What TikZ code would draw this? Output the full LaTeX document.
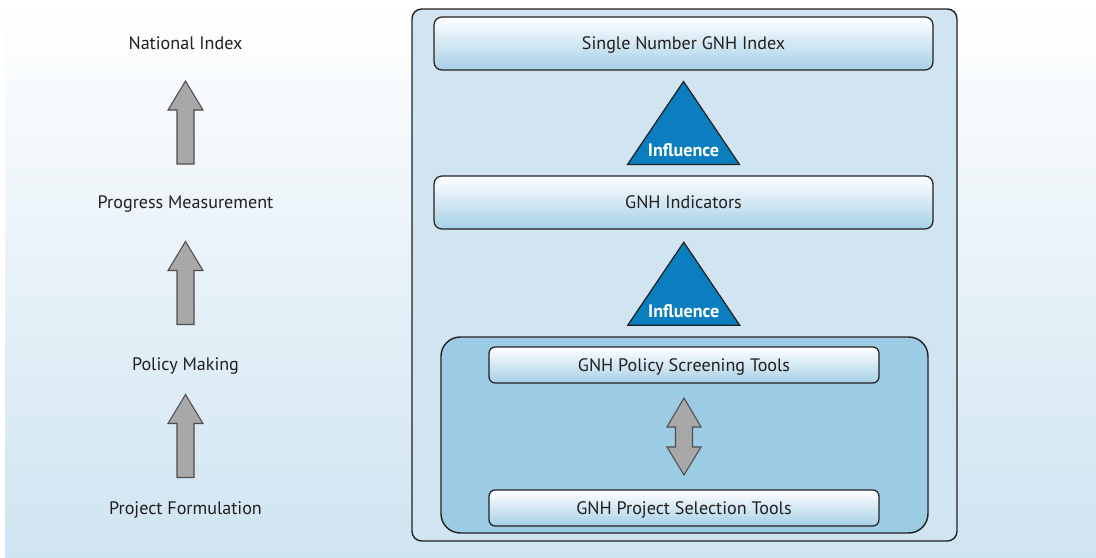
\documentclass[tikz,border=0pt]{standalone}
\usepackage{fontspec}
\setmainfont{PT Sans}
\usetikzlibrary{calc}

\definecolor{bgblue}{HTML}{CFE4F1}
\definecolor{frameblue}{HTML}{D0E5F1}
\definecolor{toolblue}{HTML}{9CCBE4}
\definecolor{boxblue}{HTML}{A6D0E7}
\definecolor{triblue}{HTML}{0A7EBF}
\definecolor{arrgrey}{HTML}{A8A8A8}
\definecolor{ink}{HTML}{231F20}

\tikzset{
  lbl/.style={text=ink, font=\fontsize{10.3}{12}\selectfont, text height=7pt, text depth=0pt},
  bigbox/.style={lbl, draw=ink, line width=0.7pt, rounded corners=4.5pt,
    top color=white, bottom color=boxblue, minimum width=9.98cm, minimum height=1.06cm},
  toolbox/.style={lbl, draw=ink, line width=0.7pt, rounded corners=3.5pt,
    top color=white, bottom color=boxblue, minimum width=7.8cm, minimum height=0.72cm},
  greyarrow/.style={draw=ink!80, line width=0.6pt, fill=arrgrey},
  blockup/.pic={
    \draw[greyarrow] (0,-41.5) -- (17.5,-12.5) -- (8.5,-12.5) -- (8.5,41.5)
      -- (-8.5,41.5) -- (-8.5,-12.5) -- (-17.5,-12.5) -- cycle;
  },
  blockboth/.pic={
    \draw[greyarrow] (0,-38.5) -- (17,-9.5) -- (8.5,-9.5) -- (8.5,10.5) -- (17,10.5)
      -- (0,38.5) -- (-17,10.5) -- (-8.5,10.5) -- (-8.5,-9.5) -- (-17,-9.5) -- cycle;
  },
  influence/.pic={
    \draw[draw=ink, line width=0.7pt, fill=triblue] (0,-41.5) -- (56,41.5) -- (-56,41.5) -- cycle;
    \node[text=white, font=\fontsize{10.3}{12}\selectfont\bfseries, text height=7pt, text depth=0pt] (-txt) at (0,27.5) {Influence};
  }
}

\begin{document}
\begin{tikzpicture}[x=0.02cm, y=-0.02cm]
  \useasboundingbox (0,0) rectangle (1096,558);
  \fill[white] (0,0) rectangle (1096,558);
  \shade[top color=white, bottom color=bgblue] (5,0) rectangle (1096,558);

  % left column
  \node[lbl] (natidx) at (185.5,43) {National Index};
  \node[lbl] (progmeas) at (185.5,202) {Progress Measurement};
  \node[lbl] (polmake) at (185.5,364) {Policy Making};
  \node[lbl] (projform) at (185.5,508) {Project Formulation};

  \pic at ($(natidx)!0.5!(progmeas)$) {blockup};
  \pic at ($(progmeas)!0.5!(polmake)$) {blockup};
  \pic at ($(polmake)!0.5!(projform)$) {blockup};

  % right column
  \draw[draw=ink, line width=0.8pt, fill=frameblue, rounded corners=5.5pt] (412,9) rectangle (957,541);
  \draw[draw=ink, line width=0.8pt, fill=toolblue, rounded corners=11pt] (441,337) rectangle (928,533);

  \node[bigbox] (gnhidx) at (683.5,43.5) {Single Number GNH Index};
  \node[bigbox] (gnhind) at (683.5,202.5) {GNH Indicators};
  \node[toolbox] (screen) at (684,365) {GNH Policy Screening Tools};
  \node[toolbox] (select) at (684,508) {GNH Project Selection Tools};

  \pic (inf1) at ($(gnhidx)!0.5!(gnhind)$) {influence};
  \pic (inf2) at ($(gnhind)!0.5!(screen)$) {influence};
  \pic at ($(screen)!0.5!(select)$) {blockboth};
\end{tikzpicture}
\end{document}
